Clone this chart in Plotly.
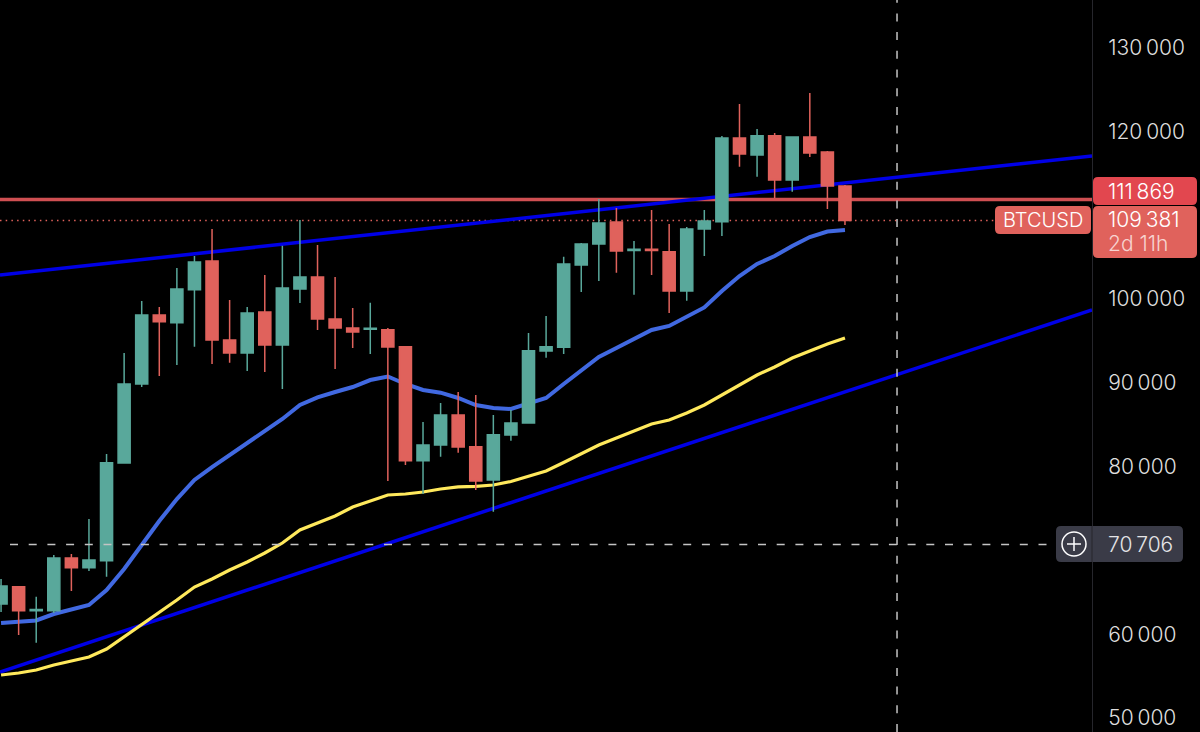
import plotly.graph_objects as go

W, H = 1200, 732
PLOT_W = 1092

# BTCUSD weekly-ish candles
opens = [63600, 65670, 62800, 62810, 69090, 67940, 68770, 80430, 89860, 98090,
         97170, 101110, 104530, 95110, 93560, 98450, 94510, 101190, 102630, 97610,
         96540, 96400, 96340, 94310, 80700, 82580, 86160, 82380, 78400, 83770,
         85200, 93800, 94240, 104060, 106560, 109190, 105800, 105950, 105640, 100950,
         108350, 109220, 119210, 117180, 119490, 114200, 119330, 117540, 113480]
highs = [66590, 65700, 64480, 69450, 69570, 73750, 81500, 93560, 99760, 99050,
         103700, 105130, 108350, 99880, 99050, 102860, 106360, 109430, 106440, 102630,
         98930, 99560, 96540, 94390, 85320, 87590, 88900, 88540, 86160, 86750,
         95940, 97970, 105050, 106680, 111930, 110860, 106920, 110620, 108950, 108590,
         110620, 119450, 123270, 120290, 119810, 119330, 124580, 117660, 113600]
lows = [62650, 59900, 58990, 62530, 65160, 67540, 66860, 80430, 89500, 90810,
        92120, 94310, 92240, 92400, 91410, 91290, 89260, 99520, 96300, 91650,
        94150, 93440, 78280, 80190, 76730, 81180, 81660, 77210, 74620, 83090,
        85200, 93000, 93440, 100840, 102150, 103140, 100510, 102860, 98330, 99800,
        105130, 107520, 115790, 114590, 112050, 112800, 116950, 110740, 108830]
closes = [65750, 62810, 62950, 69090, 67940, 68850, 80470, 89860, 98090, 97290,
          101190, 104420, 95110, 93560, 98330, 94510, 101310, 102630, 97610, 96540,
          96060, 96500, 94270, 80700, 82580, 86160, 82340, 78280, 83810, 85200,
          93830, 94310, 104180, 106560, 109070, 105730, 105950, 105800, 100950, 108350,
          109310, 119210, 117300, 119490, 114200, 119330, 117420, 113480, 109381]

ma_blue = [61340, 61460, 61640, 62410, 62890, 63490, 65270, 67780, 70640, 73510,
           76130, 78400, 79950, 81380, 82820, 84130, 85680, 87350, 88250, 88900,
           89500, 90330, 90750, 89860, 89140, 88820, 88190, 87350, 86990, 86870,
           87470, 88190, 89860, 91440, 93080, 94150, 95230, 96300, 96780, 97850,
           98990, 100950, 102740, 104180, 105130, 106320, 107400, 108050, 108230]
ma_yellow = [55130, 55370, 55730, 56320, 56800, 57280, 58230, 59670, 61100, 62530,
             64080, 65630, 66590, 67660, 68620, 69690, 70880, 72430, 73270, 74110,
             75180, 75900, 76610, 76730, 76970, 77330, 77570, 77630, 77800, 78220,
             78820, 79480, 80490, 81500, 82580, 83410, 84250, 85080, 85560, 86400,
             87350, 88540, 89740, 90930, 91890, 92960, 93800, 94630, 95350]

# trend lines, two end points each
trend_x = [-0.06, 62.05]
trend_upper = [102860, 117060]
trend_lower = [55490, 98690]

level_price = 111869
last_price = 109381
cross_price = 70706
cross_x = 50.96

tick_vals = [130000, 120000, 100000, 90000, 80000, 60000, 50000]
tick_text = ["130\u2009000", "120\u2009000", "100\u2009000", "90\u2009000",
             "80\u2009000", "60\u2009000", "50\u2009000"]

X_RANGE = [-0.06, 62.05]
Y_RANGE = [48329, 135680]
TEAL = "#59a89b"
RED = "#e0625c"
xs = list(range(len(closes)))


def box(x0, y0, x1, y1, color, r=5):
    # rounded rectangle from pixel corners, in paper coordinates
    px = lambda v: round(v / PLOT_W, 5)
    py = lambda v: round(1 - v / H, 5)
    path = (f"M{px(x0 + r)},{py(y0)} L{px(x1 - r)},{py(y0)} Q{px(x1)},{py(y0)} {px(x1)},{py(y0 + r)} "
            f"L{px(x1)},{py(y1 - r)} Q{px(x1)},{py(y1)} {px(x1 - r)},{py(y1)} "
            f"L{px(x0 + r)},{py(y1)} Q{px(x0)},{py(y1)} {px(x0)},{py(y1 - r)} "
            f"L{px(x0)},{py(y0 + r)} Q{px(x0)},{py(y0)} {px(x0 + r)},{py(y0)} Z")
    return dict(type="path", xref="paper", yref="paper", path=path,
                fillcolor=color, line=dict(width=0), layer="above")


def label(x, y, text, color="#ffffff", size=21):
    return dict(xref="paper", yref="paper", x=x / PLOT_W, y=1 - y / H, text=text,
                showarrow=False, xanchor="left", yanchor="middle", borderpad=0,
                font=dict(family="Inter", size=size, color=color, weight=300))


fig = go.Figure()

fig.add_trace(go.Scatter(x=X_RANGE, y=[level_price, level_price], mode="lines",
                         line=dict(color="#cf4f52", width=3.5)))
fig.add_trace(go.Scatter(x=[-0.06, 56.5], y=[last_price, last_price], mode="lines",
                         line=dict(color=RED, width=1.5, dash="1.5px,4.2px")))
fig.add_trace(go.Scatter(x=trend_x, y=trend_upper, mode="lines",
                         line=dict(color="#0000e6", width=3.5)))
fig.add_trace(go.Scatter(x=trend_x, y=trend_lower, mode="lines",
                         line=dict(color="#0000e6", width=3.5)))
fig.add_trace(go.Scatter(x=xs, y=ma_blue, mode="lines",
                         line=dict(color="#4169e1", width=4)))
fig.add_trace(go.Scatter(x=xs, y=ma_yellow, mode="lines",
                         line=dict(color="#ffe95c", width=3.2)))

# on overlay axes, otherwise plotly puts the scatter lines over the candles
fig.add_trace(go.Candlestick(
    x=xs, open=opens, high=highs, low=lows, close=closes,
    xaxis="x2", yaxis="y2", whiskerwidth=0,
    increasing=dict(line=dict(color=TEAL, width=1.5), fillcolor=TEAL),
    decreasing=dict(line=dict(color=RED, width=1.5), fillcolor=RED),
))

shapes = [
    # crosshair
    dict(type="line", xref="x2", yref="paper", x0=cross_x, x1=cross_x, y0=0, y1=1,
         line=dict(color="#c4c4c4", width=1.5, dash="8px,10.7px"), layer="above"),
    dict(type="line", xref="paper", yref="y2", x0=10 / PLOT_W, x1=1056 / PLOT_W,
         y0=cross_price, y1=cross_price,
         line=dict(color="#c4c4c4", width=1.5, dash="8px,10.7px"), layer="above"),
    box(1093, 177, 1197, 205, "#e2474f"),
    box(1093, 206, 1197, 258, RED),
    box(995, 206, 1091, 234, RED),
    box(1056, 526, 1183, 562, "#3a3b47"),
    dict(type="line", xref="paper", yref="paper", x0=1, x1=1, y0=1 - 526 / H, y1=1 - 562 / H,
         line=dict(color="#26262c", width=1), layer="above"),
    dict(type="circle", xref="paper", yref="paper", x0=1062 / PLOT_W, x1=1086 / PLOT_W,
         y0=1 - 532 / H, y1=1 - 556 / H, line=dict(color="#ffffff", width=1.5), layer="above"),
    dict(type="line", xref="paper", yref="paper", x0=1067 / PLOT_W, x1=1081 / PLOT_W,
         y0=1 - 544 / H, y1=1 - 544 / H, line=dict(color="#ffffff", width=1.5), layer="above"),
    dict(type="line", xref="paper", yref="paper", x0=1074 / PLOT_W, x1=1074 / PLOT_W,
         y0=1 - 537 / H, y1=1 - 551 / H, line=dict(color="#ffffff", width=1.5), layer="above"),
]

annotations = [
    label(1107, 191, "111\u2009869"),
    label(1107, 219, "109\u2009381"),
    label(1107, 244, "2d 11h", color="#f7d3d0"),
    label(1002, 220, "BTCUSD", size=20),
    label(1107, 544, "70\u2009706", color="#e4e4e6"),
]

fig.update_layout(
    width=W, height=H,
    margin=dict(l=0, r=W - PLOT_W, t=0, b=0),
    paper_bgcolor="#000000", plot_bgcolor="#000000",
    showlegend=False,
    boxgap=0.14, boxgroupgap=0.2,
    shapes=shapes, annotations=annotations,
    xaxis=dict(range=X_RANGE, visible=False, fixedrange=True),
    yaxis=dict(range=Y_RANGE, side="right", tickvals=tick_vals, ticktext=tick_text,
               showgrid=False, zeroline=False, showline=True, linecolor="#26262c",
               linewidth=1, ticks="", ticklabelstandoff=11,
               tickfont=dict(family="Inter", size=21, color="#dedede", weight=300)),
    xaxis2=dict(range=X_RANGE, overlaying="x", visible=False,
                rangeslider=dict(visible=False)),
    yaxis2=dict(range=Y_RANGE, overlaying="y", visible=False),
)

# the page keeps the browser's 8px body margin otherwise
fig.write_html("out.html", config={"displayModeBar": False},
               post_script="document.body.style.margin='0';")
